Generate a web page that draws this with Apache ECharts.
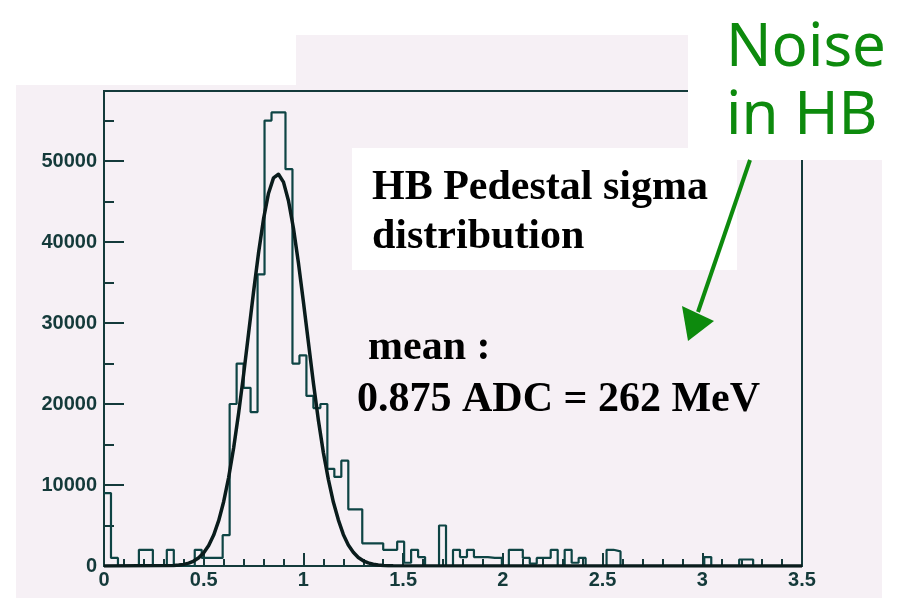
<!DOCTYPE html>
<html>
<head>
<meta charset="utf-8">
<script src="https://cdn.jsdelivr.net/npm/echarts@6/dist/echarts.min.js"></script>
<style>
  html, body { margin: 0; padding: 0; background: #ffffff; }
  #chart { width: 906px; height: 605px; }
</style>
</head>
<body>
<div id="chart"></div>
<script>
// HB pedestal sigma: 100 bins from 0 to 3.5 ADC
const binLow = 0;
const binWidth = 0.035;
const binCounts = [
  9000, 1000, 0, 0, 0, 2000, 2000, 0, 0, 2000,
  0, 0, 0, 2000, 1000, 1000, 1000, 3800, 20000, 25000,
  22000, 19000, 36000, 55000, 56000, 56000, 49000, 25000, 26000, 21000,
  19500, 20000, 12000, 11000, 13000, 7000, 7000, 2800, 2800, 2800,
  2000, 2000, 3000, 400, 2000, 1100, 0, 0, 5000, 0,
  2000, 1100, 2000, 1100, 1100, 1000, 1000, 0, 2000, 2000,
  1000, 300, 1000, 1000, 2000, 0, 2000, 400, 1000, 0,
  0, 0, 2000, 1800, 0, 0, 0, 0, 0, 0,
  0, 0, 0, 0, 0, 0, 1100, 0, 0, 0,
  0, 800, 800, 0, 0, 0, 0, 0, 0, 0
];

// Gaussian fit curve, sampled every 0.025 ADC across the peak
const fitX = [0, 0.350, 0.375, 0.400, 0.425, 0.450, 0.475, 0.500, 0.525, 0.550, 0.575,
              0.600, 0.625, 0.650, 0.675, 0.700, 0.725, 0.750, 0.775, 0.800, 0.825,
              0.850, 0.875, 0.900, 0.925, 0.950, 0.975, 1.000, 1.025, 1.050, 1.075,
              1.100, 1.125, 1.150, 1.175, 1.200, 1.225, 1.250, 1.275, 1.300, 1.325,
              1.350, 1.375, 1.400, 1.425, 1.450, 3.5];
const fitY = [0, 59, 111, 202, 357, 610, 1010, 1623, 2528, 3821, 5595,
              7940, 10930, 14580, 18850, 23630, 28740, 33870, 38690, 42860, 46030,
              47920, 48370, 47400, 45100, 41700, 37400, 32600, 27600, 22600, 18000,
              14000, 10700, 7900, 5700, 3900, 2600, 1700, 1050, 640, 380,
              220, 120, 65, 33, 16, 0];

const xTicks = { min: 0, max: 3.5, interval: 0.5 };
const yTicks = { min: 0, max: 58650, major: 10000, minor: 5000 };

const titleLines = ['HB Pedestal sigma', 'distribution'];
const meanLines = ['mean :', '0.875 ADC = 262 MeV'];
const noteLines = ['Noise', 'in HB'];

// outline of the histogram: each bin contributes its left and right edge
const histPoints = [];
binCounts.forEach((v, i) => {
  const lo = binLow + i * binWidth;
  histPoints.push([lo, v], [lo + binWidth, v]);
});
const fitPoints = fitX.map((x, i) => [x, fitY[i]]);

const ink = '#143a3a';
const pink = '#f6f0f5';
const green = '#0d8a0d';
const serif = '"Liberation Serif", "Times New Roman", serif';
const sans = '"Liberation Sans", Arial, sans-serif';

const chart = echarts.init(document.getElementById('chart'), null, { renderer: 'canvas' });

chart.setOption({
  animation: false,
  backgroundColor: '#ffffff',
  grid: {
    left: 104, right: 104, top: 91, bottom: 39,
    show: true, borderColor: ink, borderWidth: 2, backgroundColor: 'transparent'
  },
  xAxis: {
    type: 'value', min: xTicks.min, max: xTicks.max, interval: xTicks.interval,
    axisLine: { show: true, lineStyle: { color: ink, width: 2 } },
    axisTick: { show: true, inside: true, length: 13, lineStyle: { color: ink, width: 2 } },
    minorTick: { show: true, splitNumber: 5, length: 7, lineStyle: { color: ink, width: 2 } },
    splitLine: { show: false },
    axisLabel: { color: ink, fontFamily: sans, fontWeight: 'bold', fontSize: 20, margin: 4 }
  },
  yAxis: [
    {
      type: 'value', min: yTicks.min, max: yTicks.max, interval: yTicks.major,
      axisLine: { show: true, lineStyle: { color: ink, width: 2 } },
      axisTick: { show: true, inside: true, length: 20, lineStyle: { color: ink, width: 2 } },
      splitLine: { show: false },
      axisLabel: { color: ink, fontFamily: sans, fontWeight: 'bold', fontSize: 20, margin: 7,
                   showMaxLabel: false, formatter: v => String(v) }
    },
    {
      type: 'value', min: yTicks.min, max: yTicks.max, interval: yTicks.minor, position: 'left',
      axisLine: { show: false },
      axisTick: { show: true, inside: true, length: 10, lineStyle: { color: ink, width: 2 } },
      splitLine: { show: false },
      axisLabel: { show: false }
    }
  ],
  series: [
    {
      type: 'line', data: histPoints, showSymbol: false, z: 3,
      lineStyle: { color: '#0e4444', width: 2.2 }
    },
    {
      type: 'line', data: fitPoints, showSymbol: false, z: 4,
      lineStyle: { color: '#0a1c1c', width: 3.5, join: 'round' }
    }
  ],
  graphic: [
    // canvas backdrop
    { type: 'polygon', z: -10, silent: true,
      shape: { points: [[16, 85], [296, 85], [296, 35], [688, 35], [688, 160], [882, 160], [882, 598], [16, 598]] },
      style: { fill: pink } },
    // white panels laid over the plot
    { type: 'rect', z: 100, silent: true, shape: { x: 688, y: 0, width: 218, height: 160 }, style: { fill: '#ffffff' } },
    { type: 'rect', z: 100, silent: true, shape: { x: 352, y: 148, width: 385, height: 122 }, style: { fill: '#ffffff' } },
    { type: 'text', z: 101, x: 372, y: 188, style: { text: titleLines[0], font: 'bold 42px ' + serif, fill: '#000', verticalAlign: 'middle' } },
    { type: 'text', z: 101, x: 372, y: 237, style: { text: titleLines[1], font: 'bold 42px ' + serif, fill: '#000', verticalAlign: 'middle' } },
    { type: 'text', z: 101, x: 368, y: 348, style: { text: meanLines[0], font: 'bold 42px ' + serif, fill: '#000', verticalAlign: 'middle' } },
    { type: 'text', z: 101, x: 357, y: 400, style: { text: meanLines[1], font: 'bold 42px ' + serif, fill: '#000', verticalAlign: 'middle' } },
    { type: 'text', z: 101, x: 726, y: 49, style: { text: noteLines[0], font: '60px "Noto Sans", sans-serif', fill: green, verticalAlign: 'middle' } },
    { type: 'text', z: 101, x: 726, y: 117, style: { text: noteLines[1], font: '60px "Noto Sans", sans-serif', fill: green, verticalAlign: 'middle' } },
    // arrow pointing at the tail
    { type: 'line', z: 102, silent: true, shape: { x1: 750, y1: 160, x2: 698, y2: 312 }, style: { stroke: green, lineWidth: 4 } },
    { type: 'polygon', z: 102, silent: true, shape: { points: [[682, 306], [714, 321], [688, 341]] }, style: { fill: green } }
  ]
});
</script>
</body>
</html>
